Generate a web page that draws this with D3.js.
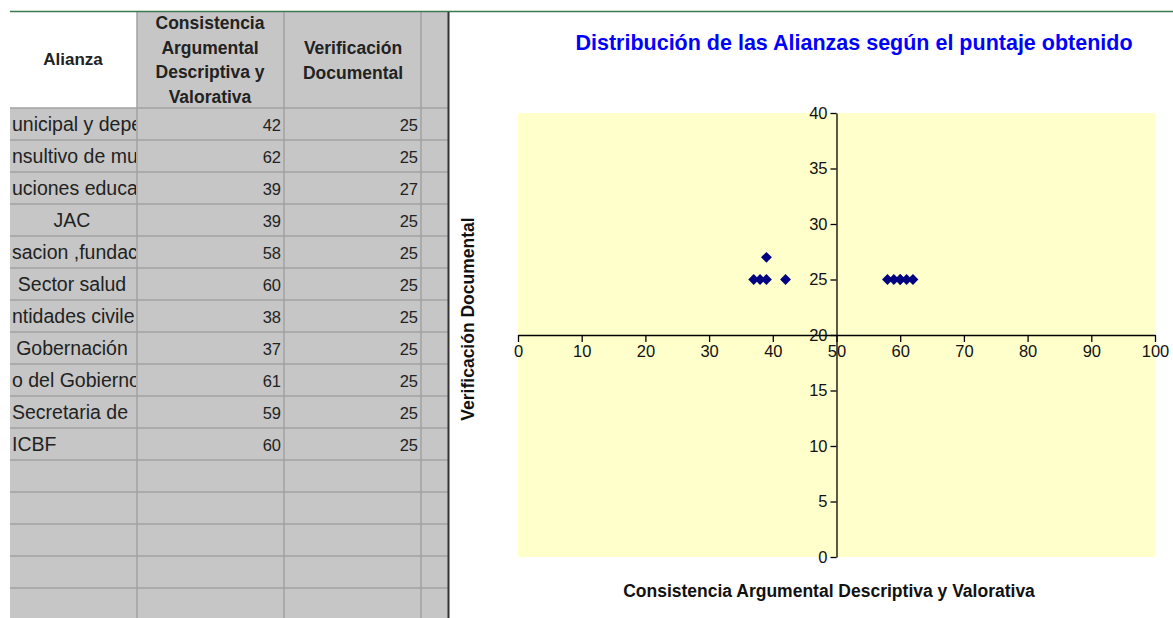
<!DOCTYPE html>
<html>
<head>
<meta charset="utf-8" />
<title>Distribución de las Alianzas</title>
<script src="https://d3js.org/d3.v7.min.js"></script>
<style>
  body { margin: 0; background: #fff; }
  svg { display: block; font-family: Arial, "Liberation Sans", sans-serif; }
</style>
</head>
<body>
<svg id="sheet" width="1173" height="618"></svg>
<script>
// visible (clipped) text of the Alianza column, as shown in the sheet
const alianzas = ["unicipal y depe", "nsultivo de mu", "uciones educa", "JAC", "sacion ,fundac",
  "Sector salud", "ntidades civile", "Gobernación", "o del Gobierno", "Secretaria de", "ICBF"];
const alignA = ["start", "start", "start", "middle", "start", "middle", "start", "middle", "start", "start", "start"];
const consistencia = [42, 62, 39, 39, 58, 60, 38, 37, 61, 59, 60];
const verificacion = [25, 25, 27, 25, 25, 25, 25, 25, 25, 25, 25];
const xTicks = [0, 10, 20, 30, 40, 50, 60, 70, 80, 90, 100];
const yTicks = [0, 5, 10, 15, 20, 25, 30, 35, 40];

const svg = d3.select("#sheet");

// ---------- spreadsheet part ----------
const cols = [10, 137, 284, 421, 448];
const headTop = 12, headBottom = 108, rowH = 32, nRows = 16;

svg.append("defs").append("clipPath").attr("id", "colA")
  .append("rect").attr("x", 10).attr("y", 0).attr("width", 126).attr("height", 618);

const sheet = svg.append("g");
// header: A white, rest gray
sheet.append("rect").attr("x", 137).attr("y", headTop).attr("width", 448 - 137).attr("height", headBottom - headTop).attr("fill", "#c6c6c6");
sheet.append("rect").attr("x", 10).attr("y", headBottom).attr("width", 438).attr("height", nRows * rowH).attr("fill", "#c6c6c6");

// grid lines
for (let i = 0; i <= nRows; i++) {
  const y = headBottom + i * rowH;
  sheet.append("line").attr("x1", 10).attr("x2", 448).attr("y1", y).attr("y2", y)
    .attr("stroke", "#a2a2a2").attr("stroke-width", 1.5);
}
cols.slice(1, 4).forEach(x => {
  sheet.append("line").attr("x1", x).attr("x2", x).attr("y1", headTop).attr("y2", 618)
    .attr("stroke", "#a2a2a2").attr("stroke-width", 1.5);
});

// header text
sheet.append("text").attr("x", 73).attr("y", 65).attr("text-anchor", "middle")
  .attr("font-size", 17).attr("font-weight", "bold").attr("fill", "#222").text("Alianza");
["Consistencia", "Argumental", "Descriptiva y", "Valorativa"].forEach((t, i) => {
  sheet.append("text").attr("x", 210).attr("y", 29 + i * 24.5).attr("text-anchor", "middle")
    .attr("font-size", 17.5).attr("font-weight", "bold").attr("fill", "#222").text(t);
});
["Verificación", "Documental"].forEach((t, i) => {
  sheet.append("text").attr("x", 353).attr("y", 54 + i * 24.5).attr("text-anchor", "middle")
    .attr("font-size", 17.5).attr("font-weight", "bold").attr("fill", "#222").text(t);
});

// data rows
const rows = sheet.selectAll(".row").data(alianzas.map((a, i) => ({
  a, align: alignA[i], c: consistencia[i], v: verificacion[i], i
}))).enter().append("g")
  .attr("transform", d => `translate(0,${headBottom + d.i * rowH})`);

rows.append("text").attr("clip-path", "url(#colA)")
  .attr("x", d => d.align === "middle" ? 72 : 12).attr("y", 23)
  .attr("text-anchor", d => d.align)
  .attr("font-size", 19.5).attr("fill", "#222").text(d => d.a);
rows.append("text").attr("x", 281).attr("y", 22.5).attr("text-anchor", "end")
  .attr("font-size", 16.5).attr("fill", "#222").text(d => d.c);
rows.append("text").attr("x", 418).attr("y", 22.5).attr("text-anchor", "end")
  .attr("font-size", 16.5).attr("fill", "#222").text(d => d.v);

// top green line and separator
svg.append("line").attr("x1", 10).attr("x2", 1173).attr("y1", 11.5).attr("y2", 11.5)
  .attr("stroke", "#3b7a53").attr("stroke-width", 1.5);
svg.append("line").attr("x1", 448.5).attr("x2", 448.5).attr("y1", 12).attr("y2", 618)
  .attr("stroke", "#333").attr("stroke-width", 2);

// ---------- chart part ----------
const plot = { left: 518, right: 1155, top: 113, bottom: 557 };
const x = d3.scaleLinear().domain([0, 100]).range([plot.left, plot.right]);
const y = d3.scaleLinear().domain([0, 40]).range([plot.bottom, plot.top]);

svg.append("text").attr("x", 854).attr("y", 50).attr("text-anchor", "middle")
  .attr("font-size", 21.5).attr("font-weight", "bold").attr("fill", "#0000ff")
  .text("Distribución de las Alianzas según el puntaje obtenido");

svg.append("rect").attr("x", plot.left).attr("y", plot.top)
  .attr("width", plot.right - plot.left).attr("height", plot.bottom - plot.top)
  .attr("fill", "#ffffcc");

// x axis crossing at y = 20
const xAxis = svg.append("g").attr("transform", `translate(0,${y(20)})`)
  .call(d3.axisBottom(x).tickValues(xTicks).tickSize(7).tickSizeOuter(0).tickPadding(3));
// y axis crossing at x = 50
const yAxis = svg.append("g").attr("transform", `translate(${x(50)},0)`)
  .call(d3.axisLeft(y).tickValues(yTicks).tickSize(6).tickSizeOuter(0).tickPadding(3));
[xAxis, yAxis].forEach(g => {
  g.selectAll("path, line").attr("stroke", "#000").attr("stroke-width", 1.3);
  g.selectAll("text").attr("font-size", 16.5).attr("fill", "#111")
    .attr("font-family", "Arial, 'Liberation Sans', sans-serif");
});

// points
const diamond = d3.symbol().type(d3.symbolDiamond2).size(75);
svg.selectAll(".pt").data(consistencia.map((c, i) => [c, verificacion[i]]))
  .enter().append("path")
  .attr("transform", d => `translate(${x(d[0])},${y(d[1])})`)
  .attr("d", diamond).attr("fill", "#000080");

// axis titles
svg.append("text").attr("x", 829).attr("y", 597).attr("text-anchor", "middle")
  .attr("font-size", 17.5).attr("font-weight", "bold").attr("fill", "#111")
  .text("Consistencia Argumental Descriptiva y Valorativa");
svg.append("text").attr("transform", "translate(474,319) rotate(-90)").attr("text-anchor", "middle")
  .attr("font-size", 17.5).attr("font-weight", "bold").attr("fill", "#111")
  .text("Verificación Documental");
</script>
</body>
</html>
